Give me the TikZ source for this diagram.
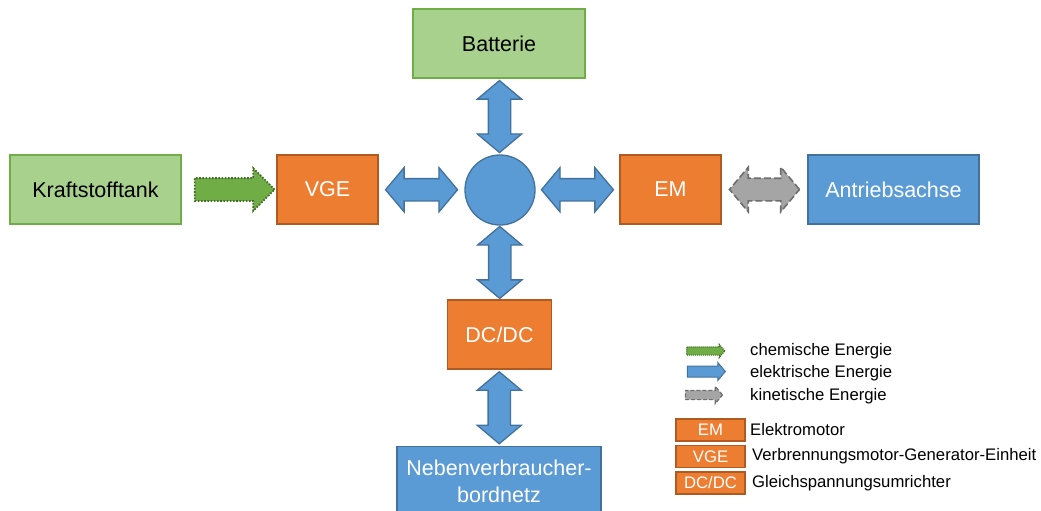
\documentclass[tikz,border=0pt]{standalone}
\usepackage{fontspec}
\setmainfont{Liberation Sans}
\usetikzlibrary{shapes.arrows,calc}
\definecolor{gfill}{HTML}{A9D18E}
\definecolor{gdraw}{HTML}{70AD47}
\definecolor{ofill}{HTML}{ED7D31}
\definecolor{odraw}{HTML}{AE5A21}
\definecolor{bfill}{HTML}{5B9BD5}
\definecolor{bdraw}{HTML}{41719C}
\definecolor{chemfill}{HTML}{70AD47}
\definecolor{chemdraw}{HTML}{3F6B25}
\definecolor{kinfill}{HTML}{A5A5A5}
\definecolor{kindraw}{HTML}{6E6E6E}
\begin{document}
\begin{tikzpicture}[x=1pt,y=-1pt,
  box/.style={draw, line width=1.5pt, minimum height=69pt, inner sep=0pt,
    font=\fontsize{21.5}{27}\selectfont, align=center},
  greenbox/.style={box, fill=gfill, draw=gdraw, text=black},
  orangebox/.style={box, fill=ofill, draw=odraw, text=white},
  bluebox/.style={box, fill=bfill, draw=bdraw, text=white},
  bigarrow/.style={inner xsep=0pt, inner ysep=10.5pt, line width=1.3pt},
  elarrow/.style={double arrow, bigarrow, draw=bdraw, fill=bfill,
    double arrow head extend=11pt, double arrow tip angle=100},
  kinarrow/.style={double arrow, bigarrow, draw=kindraw, fill=kinfill,
    line width=1.6pt,
    double arrow head extend=11pt, double arrow tip angle=100,
    dash pattern=on 7pt off 3pt},
  chemarrow/.style={single arrow, bigarrow, draw=chemdraw, fill=chemfill,
    line width=1.8pt,
    single arrow head extend=10pt, single arrow tip angle=90,
    dash pattern=on 1.6pt off 1.6pt},
  legtext/.style={inner sep=0pt, anchor=west, font=\fontsize{16.7}{20}\selectfont},
  legbox/.style={draw=odraw, fill=ofill, text=white, line width=1.5pt,
    minimum width=69pt, minimum height=22pt, inner sep=0pt,
    font=\fontsize{16.7}{20}\selectfont}
]
\useasboundingbox (0,0) rectangle (1041,511);
\clip (0,0) rectangle (1041,511);

% main nodes
\node[greenbox, minimum width=172pt] (batt) at (499,43.5) {Batterie};
\node[greenbox, minimum width=171pt] (tank) at (95.5,189.5) {Kraftstofftank};
\node[orangebox, minimum width=101pt] (vge) at (327.5,189.5) {VGE};
\node[circle, draw=bdraw, fill=bfill, line width=1.3pt, minimum size=70pt, inner sep=0pt] (circ) at (500,190) {};
\node[orangebox, minimum width=101pt] (em) at (670.5,189.5) {EM};
\node[bluebox, minimum width=171pt] (achse) at (893.5,189.5) {Antriebsachse};
\node[orangebox, minimum width=104pt] (dcdc) at (499.5,334.5) {DC/DC};
\node[bluebox, minimum width=204pt, text depth=0pt] (neben) at (499,481) {Nebenverbraucher-\\bordnetz};

% connectors (block arrows)
\node[elarrow, rotate=90, minimum height=72pt] (a1) at ($(batt.south)!0.5!(circ.north)$) {};
\node[elarrow, rotate=90, minimum height=72pt] (a2) at ($(circ.south)!0.5!(dcdc.north)$) {};
\node[elarrow, rotate=90, minimum height=72pt] (a3) at ($(dcdc.south)!0.5!(neben.north)$) {};
\node[elarrow, minimum height=72pt] (a4) at ($(vge.east)!0.5!(circ.west)$) {};
\node[elarrow, minimum height=72pt] (a5) at ($(circ.east)!0.5!(em.west)$) {};
\node[chemarrow, minimum height=80pt] (a6) at ($(tank.east)!0.5!(vge.west)$) {};
\node[kinarrow, minimum height=70pt] (a7) at ($(em.east)!0.5!(achse.west)$) {};

% legend
\node[single arrow, draw=chemdraw, fill=chemfill, line width=1.2pt,
  inner xsep=0pt, inner ysep=3.5pt, single arrow head extend=2.5pt,
  single arrow tip angle=100, minimum height=38pt,
  dash pattern=on 1pt off 1pt] (l1) at (704,351) {};
\node[single arrow, draw=bdraw, fill=bfill, line width=1pt,
  inner xsep=0pt, inner ysep=5pt, single arrow head extend=3.5pt,
  single arrow tip angle=100, minimum height=38pt] (l2) at (704,371.5) {};
\node[single arrow, draw=kindraw, fill=kinfill, line width=1.2pt,
  inner xsep=0pt, inner ysep=4pt, single arrow head extend=4pt,
  single arrow tip angle=100, minimum height=37pt,
  dash pattern=on 4pt off 2pt] (l3) at (702,395) {};
\node[legtext] (t1) at (750,351) {chemische Energie};
\node[legtext] (t2) at (750,373) {elektrische Energie};
\node[legtext] (t3) at (750,396) {kinetische Energie};

\node[legbox] (b1) at (710.5,430) {EM};
\node[legbox] (b2) at (710.5,456.5) {VGE};
\node[legbox] (b3) at (710.5,483) {DC/DC};
\node[legtext] (t4) at (750,430) {Elektromotor};
\node[legtext] (t5) at (752,456.5) {Verbrennungsmotor-Generator-Einheit};
\node[legtext] (t6) at (752,483) {Gleichspannungsumrichter};
\end{tikzpicture}
\end{document}
